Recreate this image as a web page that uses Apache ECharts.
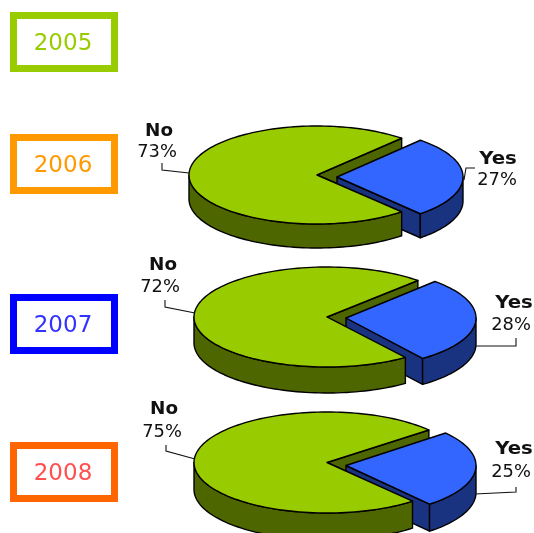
<!DOCTYPE html>
<html>
<head>
<meta charset="utf-8">
<script src="https://cdn.jsdelivr.net/npm/echarts@6/dist/echarts.min.js"></script>
<style>
html,body{margin:0;padding:0;background:#fff;}
#chart{width:534px;height:533px;filter:blur(0.45px);}
</style>
</head>
<body>
<div id="chart"></div>
<script>
// ---- data ----
var years = ['2005', '2006', '2007', '2008'];
var pieYears = ['2006', '2007', '2008'];
var yesValues = [27, 28, 25];
var noValues = [73, 72, 75];
var yesLabel = 'Yes';
var noLabel = 'No';

// ---- styling / layout ----
var boxColors = ['#99CC00', '#FF9900', '#0000FF', '#FF6600'];
var boxTextColors = ['#99CC00', '#FF9900', '#3333FF', '#FF5050'];
var boxTops = [15.5, 137.5, 297.5, 445.5];
var pieLayout = [
  { cx: 317, cy: 175, rx: 128, bRx: 126, ry: 49, h: 24, bx: 20, by: 2, rot: 0,
    noName: [159, 130], noPct: [157, 151], yesName: [498, 158], yesPct: [497, 179],
    noLine: [[189, 173], [162, 170], [162, 163]], yesLine: [[464, 180], [466, 168], [475, 168]] },
  { cx: 327, cy: 317, rx: 133, bRx: 130, ry: 50, h: 26, bx: 19, by: 1, rot: 3.5,
    noName: [163, 264], noPct: [160, 286], yesName: [514, 302], yesPct: [511, 324],
    noLine: [[195, 313], [165, 307], [165, 300]], yesLine: [[475, 346], [516, 346], [516, 338]] },
  { cx: 327, cy: 462.5, rx: 133, bRx: 130, ry: 50.5, h: 27, bx: 19, by: 3, rot: 5,
    noName: [164, 408], noPct: [162, 431], yesName: [514, 448], yesPct: [511, 471],
    noLine: [[195, 459], [166, 451], [166, 445]], yesLine: [[475, 494], [516, 492], [516, 487]] }
];
var GREEN = '#99CC00', GREEN_D = '#4D6600', BLUE = '#3366FF', BLUE_D = '#1A3380', INK = '#000000';

function rad(d) { return d * Math.PI / 180; }
function arc(cx, cy, rx, ry, a0, a1) {
  var pts = [], n = Math.max(2, Math.ceil(Math.abs(a1 - a0) / 2));
  for (var i = 0; i <= n; i++) {
    var a = rad(a0 + (a1 - a0) * i / n);
    pts.push([cx + rx * Math.cos(a), cy + ry * Math.sin(a)]);
  }
  return pts;
}
function poly(points, fill) {
  return { type: 'polygon', shape: { points: points },
    style: { fill: fill, stroke: INK, lineWidth: 1.4, lineJoin: 'round' }, silent: true };
}
function txt(pos, text, bold, size, sx) {
  return { type: 'text', x: pos[0], y: pos[1] + 1.5, scaleX: sx, scaleY: 1, silent: true,
    style: { text: text, fill: '#111111', align: 'center', verticalAlign: 'middle',
      fontFamily: 'DejaVu Sans', fontSize: size, fontWeight: bold ? 'bold' : 'normal' } };
}
function leader(points) {
  return { type: 'polyline', shape: { points: points }, silent: true,
    style: { fill: 'none', stroke: '#111111', lineWidth: 1.1 } };
}
function shifted(pts, dy) { return pts.map(function (p) { return [p[0], p[1] + dy]; }); }

function renderPie(params, api) {
  var L = pieLayout[params.dataIndex];
  var yes = api.value(0), no = api.value(1);
  var span = 360 * yes / (yes + no);
  var low = L.rot + span / 2, up = L.rot - span / 2;
  var bcx = L.cx + L.bx, bcy = L.cy + L.by;

  var apex = [L.cx, L.cy];
  var gLow = arc(L.cx, L.cy, L.rx, L.ry, low, low)[0];
  var gUp = arc(L.cx, L.cy, L.rx, L.ry, up, up)[0];
  var t = L.bx / (gLow[0] - L.cx);
  var cutP = [L.cx + (gLow[0] - L.cx) * t, L.cy + (gLow[1] - L.cy) * t];

  var children = [];
  // far cut face of the green slice
  children.push(poly([apex, gUp, [gUp[0], gUp[1] + L.h], cutP], GREEN_D));

  // blue slice: cut face, rim, top
  var bLow = arc(bcx, bcy, L.bRx, L.ry, low, low)[0];
  children.push(poly([[bcx, bcy], bLow, [bLow[0], bLow[1] + L.h], [bcx, bcy + L.h]], BLUE_D));
  var bRim = arc(bcx, bcy, L.bRx, L.ry, 0, low);
  children.push(poly(bRim.concat(shifted(bRim, L.h).reverse()), BLUE_D));
  children.push(poly([[bcx, bcy]].concat(arc(bcx, bcy, L.bRx, L.ry, up, low)), BLUE));

  // green slice: rim, top
  var gRim = arc(L.cx, L.cy, L.rx, L.ry, low, 180);
  children.push(poly(gRim.concat(shifted(gRim, L.h).reverse()), GREEN_D));
  children.push(poly([apex].concat(arc(L.cx, L.cy, L.rx, L.ry, low, 360 + up)), GREEN));

  // labels
  children.push(leader(L.noLine), leader(L.yesLine));
  children.push(txt(L.noName, noLabel, true, 17, 1.08));
  children.push(txt(L.noPct, no + '%', false, 17.5, 1.02));
  children.push(txt(L.yesName, yesLabel, true, 17, 1.16));
  children.push(txt(L.yesPct, yes + '%', false, 17.5, 1.02));
  return { type: 'group', children: children };
}

function renderBox(params, api) {
  var i = params.dataIndex;
  var top = boxTops[i];
  return { type: 'group', children: [
    { type: 'rect', shape: { x: 13.5, y: top, width: 101, height: 53 }, silent: true,
      style: { fill: '#FFFFFF', stroke: boxColors[i], lineWidth: 7 } },
    { type: 'text', x: 63, y: top + 29, silent: true,
      style: { text: years[i], fill: boxTextColors[i], align: 'center', verticalAlign: 'middle',
        fontFamily: 'DejaVu Sans', fontSize: 23 } }
  ] };
}

var chart = echarts.init(document.getElementById('chart'), null, { renderer: 'canvas' });
chart.setOption({
  animation: false,
  backgroundColor: '#FFFFFF',
  series: [
    { type: 'custom', name: 'Year', coordinateSystem: 'none', clip: false,
      renderItem: renderBox,
      data: years.map(function (y) { return { name: y, value: [y] }; }) },
    { type: 'custom', name: 'Survey', coordinateSystem: 'none', clip: false,
      renderItem: renderPie,
      data: pieYears.map(function (y, i) { return { name: y, value: [yesValues[i], noValues[i]] }; }) }
  ]
});
</script>
</body>
</html>
